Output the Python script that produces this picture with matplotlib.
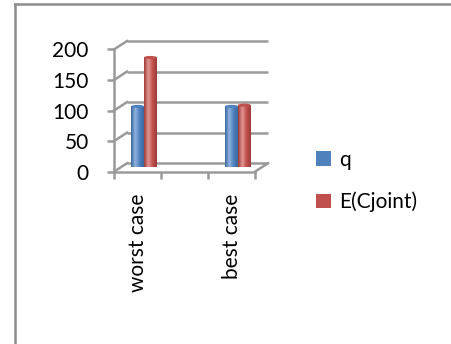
import numpy as np
import matplotlib
matplotlib.use("Agg")
import matplotlib.pyplot as plt
from matplotlib.patches import Patch, Ellipse
from matplotlib.lines import Line2D
from matplotlib.colors import LinearSegmentedColormap

categories = ["worst case", "", "best case"]
q_values = [100, np.nan, 100]
e_values = [180, np.nan, 102]
series_names = ["q", "E(Cjoint)"]
y_ticks = [0, 50, 100, 150, 200]

plt.rcParams['font.family'] = ['Lato', 'DejaVu Sans']
FS = 15

W, H = 451, 344
fig = plt.figure(figsize=(W / 100, H / 100), dpi=100)

# front plane px geometry
x_left, x_right_back = 114, 268
y_bottom, y_top = 171.7, 41
ax = fig.add_axes([x_left / W, 1 - y_bottom / H, (x_right_back - x_left) / W, (y_bottom - y_top) / H])

n = len(categories)
dx = 13 / 47.0          # depth offset in category units
ymax = 200
dy = 8.5 / (122.7 / 200)  # depth offset in value units
ax.set_xlim(-0.5, n - 0.5 + dx)
ax.set_ylim(0, ymax + dy)

grid_c = '#9a9a9a'
lw = 1.8

# back wall gridlines + side-wall diagonals
for v in y_ticks:
    ax.plot([-0.5 + dx, n - 0.5 + dx], [v + dy, v + dy], color=grid_c, lw=lw, clip_on=False, solid_capstyle='butt')
    ax.plot([-0.5, -0.5 + dx], [v, v + dy], color=grid_c, lw=lw, clip_on=False)
# floor
ax.plot([n - 0.5, n - 0.5 + dx], [0, dy], color=grid_c, lw=lw, clip_on=False)

# spines
for s in ['top', 'right']:
    ax.spines[s].set_visible(False)
ax.spines['left'].set_bounds(0, ymax)
ax.spines['bottom'].set_bounds(-0.5, n - 0.5)
for s in ['left', 'bottom']:
    ax.spines[s].set_color(grid_c)
    ax.spines[s].set_linewidth(lw)

ax.set_yticks(y_ticks)
ax.set_yticklabels([str(v) for v in y_ticks], fontsize=FS)
ax.tick_params(axis='y', length=5.3, width=lw, color=grid_c, pad=13)
ax.set_xticks(range(n))
ax.set_xticklabels(categories, rotation=90, fontsize=FS, va='top')
ax.tick_params(axis='x', which='major', length=0, pad=16)
ax.set_xticks(np.arange(-0.5, n, 1.0), minor=True)
ax.tick_params(axis='x', which='minor', length=5, width=lw, color=grid_c)

colors = ['#4F81BD', '#C0504D']
dark = ['#3a679c', '#9c3b38']
light = ['#8fb3e0', '#e39694']
bw = 0.27
for si, vals in enumerate([q_values, e_values]):
    cmap = LinearSegmentedColormap.from_list('g', [dark[si], light[si], colors[si], dark[si]])
    for i, v in enumerate(vals):
        if np.isnan(v):
            continue
        xc = i + (si - 0.5) * bw + dx / 2
        bars = ax.bar(xc, v, width=bw, bottom=dy / 2, color=colors[si], clip_on=False, zorder=3)
        rect = bars[0]
        grad = np.linspace(0, 1, 64).reshape(1, -1)
        im = ax.imshow(grad, extent=[xc - bw / 2, xc + bw / 2, dy / 2, dy / 2 + v], aspect='auto',
                       cmap=cmap, zorder=3.5, clip_on=True)
        im.set_clip_path(rect)
        ax.add_patch(Ellipse((xc, dy / 2 + v), bw, 5.0, facecolor=colors[si], edgecolor='none',
                             zorder=3.6, clip_on=False))
ax.set_xlim(-0.5, n - 0.5 + dx)
ax.set_ylim(0, ymax + dy)
ax.set_facecolor('none')

handles = [Patch(facecolor=c, edgecolor='none') for c in colors]
fig.legend(handles, series_names, loc='upper left', bbox_to_anchor=(316 / W, 1 - 150 / H),
           frameon=False, fontsize=FS, handlelength=0.7, handleheight=0.7,
           handletextpad=0.4, labelspacing=1.05, borderpad=0, borderaxespad=0)

# chart frame
fig.add_artist(Line2D([15 / W, 15 / W], [0, 1 - 3.5 / H], color='#8c8c8c', lw=1.8))
fig.add_artist(Line2D([15 / W, 1], [1 - 3.5 / H, 1 - 3.5 / H], color='#8c8c8c', lw=1.8))

fig.savefig('out.png', dpi=100)
